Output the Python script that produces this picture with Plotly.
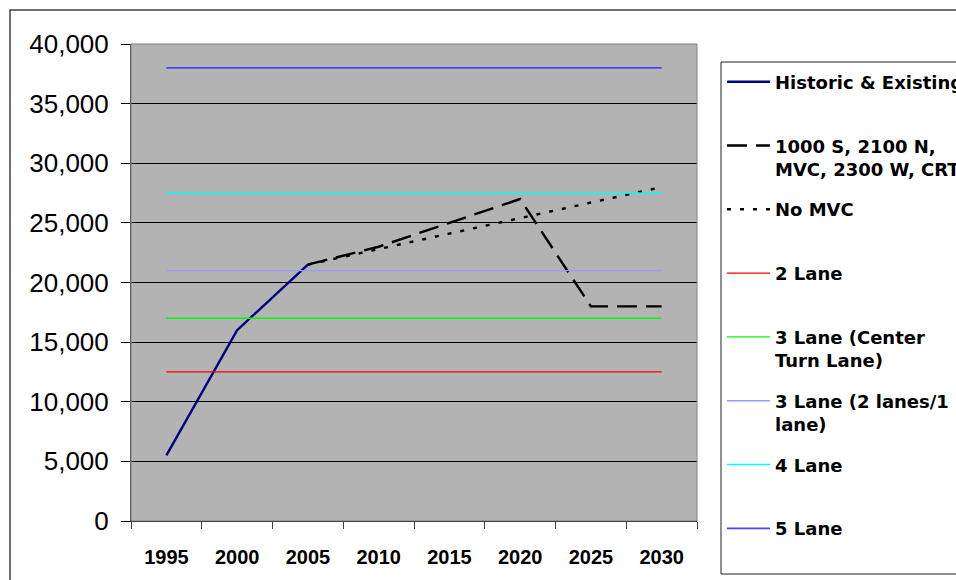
import plotly.graph_objects as go

years = ["1995", "2000", "2005", "2010", "2015", "2020", "2025", "2030"]
historic = [5500, 16000, 21500, None, None, None, None, None]
scenario = [None, None, 21500, 23000, 25000, 27000, 18000, 18000]
no_mvc = [None, None, 21500, 22800, 24100, 25400, 26700, 28000]

lane_names = ["2 Lane", "3 Lane (Center<br>Turn Lane)", "3 Lane (2 lanes/1<br>lane)", "4 Lane", "5 Lane"]
lane_caps = [12500, 17000, 21000, 27500, 38000]
lane_colors = ["#FF0000", "#00FF00", "#9999FF", "#00FFFF", "#4848F0"]
lane_widths = [1.2, 1.4, 1.4, 1.5, 1.8]

def two_line(name):
    return name if "<br>" in name else name + "<br>\u00a0"

fig = go.Figure()
fig.add_trace(go.Scatter(x=years, y=historic, mode="lines", name=two_line("Historic & Existing"),
                         line=dict(color="#000080", width=2.4), legendgroup="a"))
fig.add_trace(go.Scatter(x=years, y=scenario, mode="lines", name="1000 S, 2100 N,<br>MVC, 2300 W, CRT",
                         line=dict(color="#000000", width=2.4, dash="20px,9px"), legendgroup="b"))
fig.add_trace(go.Scatter(x=years, y=no_mvc, mode="lines", name=two_line("No MVC"),
                         line=dict(color="#000000", width=2.4, dash="4px,9px"), legendgroup="c"))
for i, (n, c, col, w) in enumerate(zip(lane_names, lane_caps, lane_colors, lane_widths)):
    fig.add_trace(go.Scatter(x=years, y=[c] * len(years), mode="lines", name=two_line(n),
                             line=dict(color=col, width=w), legendgroup="l%d" % i))

W, H = 956, 580
PL, PR, PT, PB = 131, 697, 44, 521
pw, ph = PR - PL, PB - PT

def px_x(x):
    return (x - PL) / pw

def px_y(y):
    return (PB - y) / ph

fig.update_layout(
    width=W, height=H,
    margin=dict(l=PL, r=W - PR, t=PT, b=H - PB, autoexpand=False),
    paper_bgcolor="white", plot_bgcolor="#B3B3B3",
    font=dict(family="Liberation Sans, Arial, sans-serif", color="black"),
    legend=dict(x=px_x(722), y=px_y(63.5), xanchor="left", yanchor="top",
                borderwidth=0, bgcolor="rgba(0,0,0,0)",
                font=dict(size=18, family="DejaVu Sans, sans-serif", weight="bold"),
                valign="top", tracegroupgap=14, traceorder="grouped", itemwidth=43,
                maxheight=1),
    showlegend=True,
)
fig.update_xaxes(type="category", range=[-0.5, 7.5], tickson="boundaries", ticks="outside",
                 ticklen=7, tickcolor="#404040", showgrid=False, showline=True, linecolor="black",
                 linewidth=1, tickfont=dict(size=20, weight="bold"), ticklabelstandoff=18,
                 zeroline=False)
fig.update_yaxes(range=[0, 40000], dtick=5000, tickformat=",d", ticks="outside", ticklen=9,
                 tickcolor="black", showgrid=True, gridcolor="black", gridwidth=1,
                 showline=True, linecolor="#404040", linewidth=1, tickfont=dict(size=26),
                 ticklabelstandoff=7, zeroline=False)

# plot-area border
fig.add_shape(type="rect", xref="paper", yref="paper", x0=0, x1=1, y0=0, y1=1,
              line=dict(color="#808080", width=1), layer="above")
# chart-area border (extends beyond the window at right and bottom)
fig.add_shape(type="rect", xref="paper", yref="paper",
              x0=px_x(10), x1=px_x(1200), y0=px_y(800), y1=px_y(10),
              line=dict(color="#404040", width=1.5), layer="below")
# legend box
fig.add_shape(type="rect", xref="paper", yref="paper",
              x0=px_x(721), x1=px_x(1200), y0=px_y(574), y1=px_y(62),
              line=dict(color="#202020", width=1), fillcolor="white", layer="below")

fig.write_html("out.html", config={"displayModeBar": False},
               post_script="document.body.style.margin='0';document.body.style.overflow='hidden';")
